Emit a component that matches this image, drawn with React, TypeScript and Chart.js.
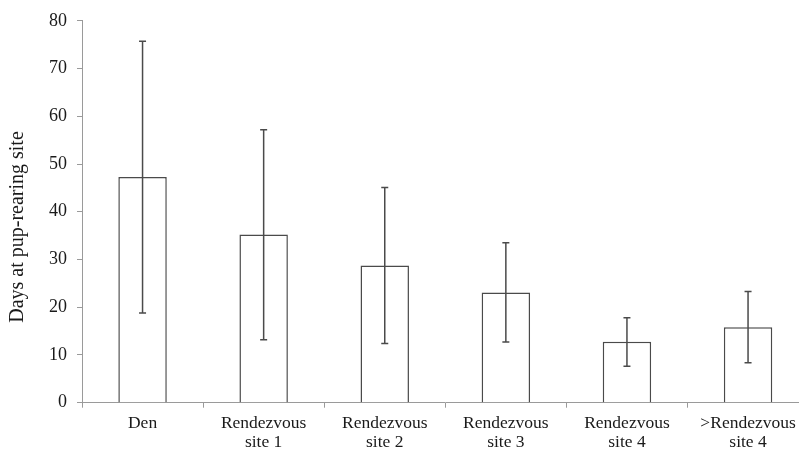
import React, { useEffect, useRef } from "react";
import { Chart, registerables } from "chart.js";

Chart.register(...registerables);

const categories: (string | string[])[] = [
  "Den",
  ["Rendezvous", "site 1"],
  ["Rendezvous", "site 2"],
  ["Rendezvous", "site 3"],
  ["Rendezvous", "site 4"],
  [">Rendezvous", "site 4"],
];
const meanDays = [47.3, 35.25, 28.75, 23.1, 12.76, 15.8];
const upperDays = [75.7, 57.2, 45.1, 33.5, 17.8, 23.3];
const lowerDays = [18.8, 13.2, 12.4, 12.7, 7.65, 8.36];
const yTitle = "Days at pup-rearing site";

const FONT = "'Liberation Serif', 'Times New Roman', serif";
const TEXT = "#1a1a1a";
const AXIS = "#9a9a9a";
const MARK = "#4a4a4a";

const errorBars = {
  id: "errorBars",
  afterDatasetsDraw(chart: any) {
    const meta = chart.getDatasetMeta(0);
    const y = chart.scales.y;
    const ctx = chart.ctx;
    ctx.save();
    ctx.strokeStyle = MARK;
    ctx.lineWidth = 1.5;
    meta.data.forEach((bar: any, i: number) => {
      const x = bar.x;
      const t = y.getPixelForValue(upperDays[i]);
      const b = y.getPixelForValue(lowerDays[i]);
      ctx.beginPath();
      ctx.moveTo(x, t);
      ctx.lineTo(x, b);
      ctx.moveTo(x - 3.5, t);
      ctx.lineTo(x + 3.5, t);
      ctx.moveTo(x - 3.5, b);
      ctx.lineTo(x + 3.5, b);
      ctx.stroke();
    });
    ctx.restore();
  },
};

const yTitlePlugin = {
  id: "yTitlePlugin",
  afterDraw(chart: any) {
    const ctx = chart.ctx;
    ctx.save();
    ctx.fillStyle = TEXT;
    ctx.font = `20px ${FONT}`;
    ctx.textAlign = "center";
    ctx.textBaseline = "middle";
    ctx.translate(18, 227);
    ctx.rotate(-Math.PI / 2);
    ctx.fillText(yTitle, 0, 0);
    ctx.restore();
  },
};

export default function App() {
  const ref = useRef<HTMLCanvasElement>(null);
  useEffect(() => {
    if (!ref.current) return;
    const chart = new Chart(ref.current, {
      type: "bar",
      data: {
        labels: categories as any,
        datasets: [
          {
            data: meanDays,
            backgroundColor: "#ffffff",
            borderColor: MARK,
            borderWidth: 1.5,
            barPercentage: 0.4,
            categoryPercentage: 1,
          },
        ],
      },
      options: {
        animation: false,
        responsive: true,
        maintainAspectRatio: false,
        layout: { padding: { left: 0, right: 21.4, top: 16, bottom: 0 } },
        plugins: {
          legend: { display: false },
          tooltip: { enabled: false },
          title: { display: false },
        },
        scales: {
          x: {
            offset: true,
            afterFit: (s: any) => {
              s.height = 49.3;
            },
            grid: {
              display: true,
              drawOnChartArea: false,
              drawTicks: true,
              tickLength: 5,
              color: AXIS,
              offset: true,
            },
            border: { display: true, color: AXIS, width: 1 },
            ticks: {
              color: TEXT,
              font: { family: FONT, size: 17.5, lineHeight: 1.08 },
              padding: 6,
              maxRotation: 0,
              autoSkip: false,
            },
          },
          y: {
            min: 0,
            max: 80,
            afterFit: (s: any) => {
              s.width = 82;
            },
            grid: {
              display: true,
              drawOnChartArea: false,
              drawTicks: true,
              tickLength: 5,
              color: AXIS,
            },
            border: { display: true, color: AXIS, width: 1 },
            ticks: {
              stepSize: 10,
              color: TEXT,
              font: { family: FONT, size: 18 },
              padding: 10,
            },
          },
        },
      },
      plugins: [errorBars, yTitlePlugin],
    });
    return () => chart.destroy();
  }, []);
  return (
    <div
      style={{
        position: "fixed",
        left: 0,
        top: 0,
        width: 799,
        height: 452,
        overflow: "hidden",
        background: "#fff",
      }}
    >
      <div style={{ position: "relative", width: 830, height: 452 }}>
        <canvas ref={ref} />
      </div>
    </div>
  );
}
